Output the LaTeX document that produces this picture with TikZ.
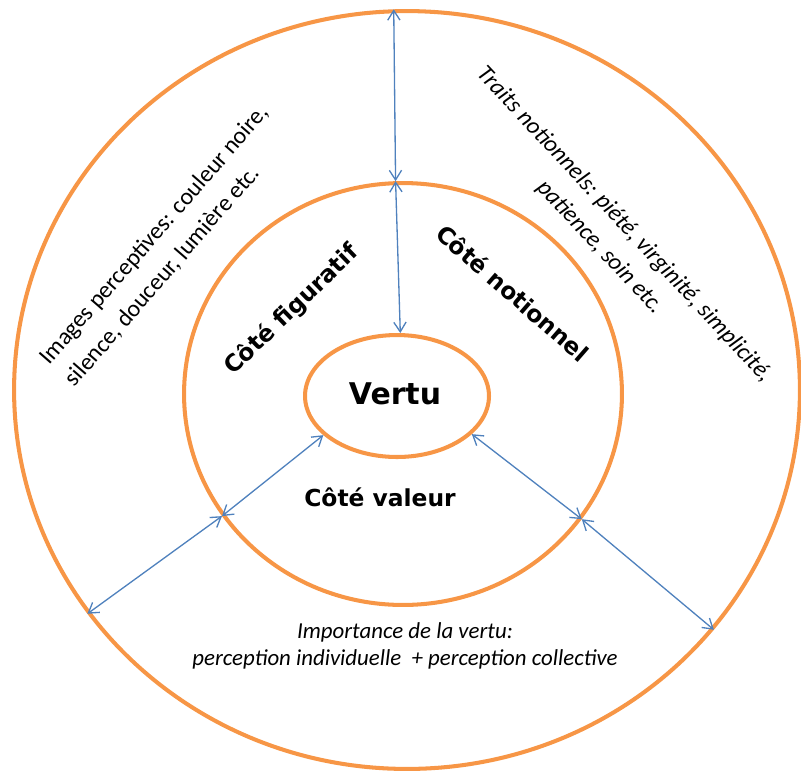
\documentclass[tikz,border=0pt]{standalone}
\usepackage{fontspec}
\setmainfont{Carlito}
\newfontfamily\boldlabel{DejaVu Sans}
\usepackage{tikz}
\usetikzlibrary{arrows.meta,shapes.geometric,positioning}
\definecolor{ringorange}{HTML}{F79646}
\definecolor{linkblue}{HTML}{4F81BD}
\tikzset{
  ring/.style={draw=ringorange,line width=2.3pt,ellipse,inner sep=0pt},
  link/.style={draw=linkblue,line width=0.75pt,{Straight Barb[length=5.5pt,width=7pt]}-{Straight Barb[length=5.5pt,width=7pt]}},
  side/.style={font=\boldlabel\bfseries\fontsize{13.3}{16}\selectfont},
  note/.style={font=\fontsize{13.6}{19}\selectfont}
}
\begin{document}
\begin{tikzpicture}[x=0.02cm,y=-0.02cm]
\useasboundingbox (0,0) rectangle (801,772);
% rings
\node[ring,minimum width=15.72cm,minimum height=15.16cm] (outer) at (407,390) {};
\node[ring,minimum width=8.76cm,minimum height=8.44cm] (middle) at (403,394) {};
\node[ring,minimum width=3.68cm,minimum height=2.44cm] (vertu) at (397,396) {};
\node[font=\boldlabel\bfseries\fontsize{17}{20}\selectfont] (vertutext) at (395,394) {Vertu};
% double arrows between rings
\draw[link] (outer.92.7) -- (middle.92.7);
\draw[link] (middle.92.7) -- (vertu.87);
\draw[link] (outer.215.3) -- (middle.214.7);
\draw[link] (middle.214.7) -- (vertu.208);
\draw[link] (vertu.-27.9) -- (middle.-35.5);
\draw[link] (middle.-35.5) -- (outer.-38.5);
% sides
\node[side,rotate=44] (figuratif) at (292,310) {Côté figuratif};
\node[side,rotate=-41] (notionnel) at (513,293) {Côté notionnel};
\node[side] (valeur) at (380,497) {Côté valeur};
% outer notes
\node[note,rotate=49,align=left] (images) at (167,246)
  {Images perceptives: couleur noire,\\silence, douceur, lumière etc.};
\node[note,rotate=-47,align=center,font=\itshape\fontsize{13.6}{19}\selectfont] (traits) at (612,236)
  {Traits notionnels: piété, virginité, simplicité,\\patience, soin etc.};
\node[align=center,font=\itshape\fontsize{13}{15.5}\selectfont] (importance) at (405,646)
  {Importance de la vertu:\\perception individuelle \ + perception collective};
\end{tikzpicture}
\end{document}
